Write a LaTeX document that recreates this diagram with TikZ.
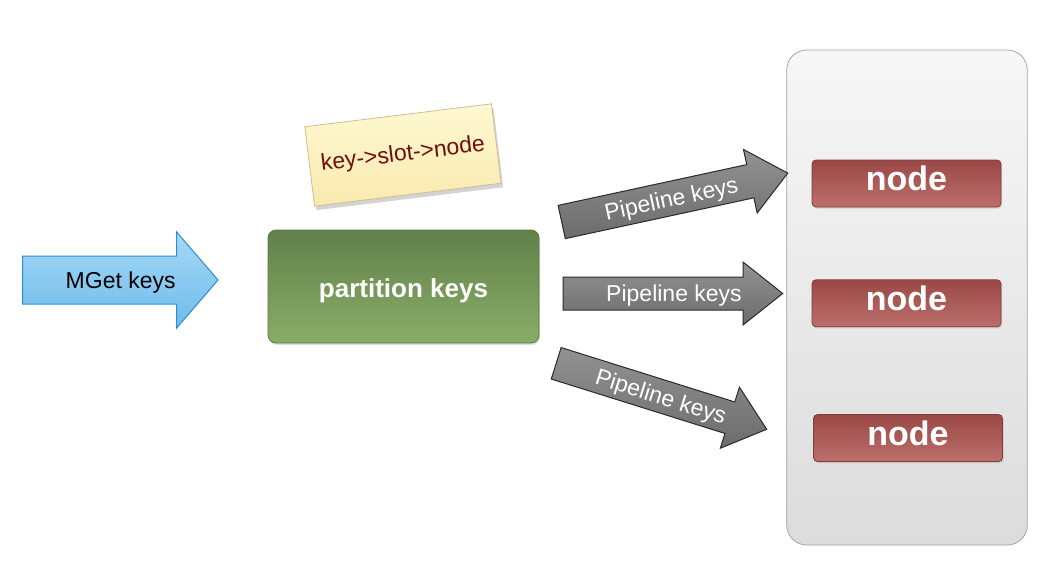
\documentclass[tikz,border=0pt]{standalone}
\usepackage{fontspec}
\setmainfont{Liberation Sans}
\usetikzlibrary{shadows}
\definecolor{bluetop}{HTML}{A6D8F7}
\definecolor{bluebot}{HTML}{6EBCEA}
\definecolor{blueline}{HTML}{2A8FD2}
\definecolor{graytop}{HTML}{929292}
\definecolor{graybot}{HTML}{6C6C6C}
\definecolor{grayline}{HTML}{2A2A2A}
\definecolor{greentop}{HTML}{62804A}
\definecolor{greenbot}{HTML}{89AD68}
\definecolor{greenline}{HTML}{587840}
\definecolor{redtop}{HTML}{9A4845}
\definecolor{redbot}{HTML}{BC6F6B}
\definecolor{redline}{HTML}{7E3C3A}
\definecolor{notetop}{HTML}{FFF9D2}
\definecolor{notebot}{HTML}{F8E9AE}
\definecolor{noteline}{HTML}{CDBE8E}
\definecolor{notetext}{HTML}{700D0D}
\definecolor{boxtop}{HTML}{F7F7F7}
\definecolor{boxbot}{HTML}{DCDCDC}
\definecolor{boxline}{HTML}{A5A5A5}
\begin{document}
\begin{tikzpicture}[x=1pt,y=-1pt,
  cluster/.style={draw=boxline, line width=0.8pt, rounded corners=20pt, top color=boxtop, bottom color=boxbot, inner sep=0, outer sep=0},
  rednode/.style={draw=redline, line width=0.8pt, rounded corners=4pt, top color=redtop, bottom color=redbot, text=white, font=\bfseries\fontsize{34}{40}\selectfont, minimum width=189pt, minimum height=47pt, inner sep=0, text depth=10pt, drop shadow={opacity=0.25, shadow xshift=1pt, shadow yshift=-1.5pt}},
  greenbox/.style={draw=greenline, line width=0.8pt, rounded corners=8pt, top color=greentop, bottom color=greenbot, text=white, font=\bfseries\fontsize{26}{30}\selectfont, minimum width=271pt, minimum height=113pt, inner sep=0, text height=27pt, text depth=6pt, drop shadow={opacity=0.25, shadow xshift=1pt, shadow yshift=-2pt}},
  notebox/.style={draw=noteline, line width=0.8pt, top color=notetop, bottom color=notebot, text=notetext, font=\fontsize{23}{27}\selectfont, minimum width=188pt, minimum height=80pt, inner sep=0, drop shadow={opacity=0.35, shadow xshift=2pt, shadow yshift=-4pt}},
  bluearrow/.style={draw=blueline, line width=1pt, line join=miter, top color=bluetop, bottom color=bluebot},
  pipearrow/.style={draw=grayline, line width=1pt, line join=miter, top color=graytop, bottom color=graybot},
  arrowtext/.style={font=\fontsize{23}{27}\selectfont, inner sep=0, text depth=0pt, transform shape},
]
\useasboundingbox (0,0) rectangle (1058,570);

% cluster of nodes
\node[cluster, minimum width=240.6pt, minimum height=495pt] (cluster) at (907,297.5) {};
\node[rednode] (n1) at (906.5,183.5) {node};
\node[rednode] (n2) at (906.5,303.3) {node};
\node[rednode] (n3) at (908,438) {node};

% MGet keys arrow
\begin{scope}[shift={(22.7,280)}]
  \path[bluearrow] (0,-24) -- (154,-24) -- (154,-48) -- (195.3,0) -- (154,48) -- (154,24) -- (0,24) -- cycle;
  \node[arrowtext, text=black] (mget) at (98,0) {MGet keys};
\end{scope}

% partition box and note
\node[greenbox] (part) at (403.5,286.5) {partition keys};
\node[notebox, rotate=7] (note) at (403,155) {key->slot->node};

% pipeline arrows
\begin{scope}[shift={(561.7,222)}, rotate=12.2]
  \path[pipearrow] (0,-17) -- (193,-17) -- (193,-32.5) -- (231.3,0) -- (193,32.5) -- (193,17) -- (0,17) -- cycle;
  \node[arrowtext, text=white] (p1) at (112,0) {Pipeline keys};
\end{scope}
\begin{scope}[shift={(563,293.5)}]
  \path[pipearrow] (0,-16.5) -- (180,-16.5) -- (180,-31.5) -- (219.7,0) -- (180,31.5) -- (180,16.5) -- (0,16.5) -- cycle;
  \node[arrowtext, text=white] (p2) at (111,0) {Pipeline keys};
\end{scope}
\begin{scope}[shift={(556.2,363.3)}, rotate=-17.4]
  \path[pipearrow] (0,-16.5) -- (182,-16.5) -- (182,-32) -- (220.6,0) -- (182,32) -- (182,16.5) -- (0,16.5) -- cycle;
  \node[arrowtext, text=white] (p3) at (110,0) {Pipeline keys};
\end{scope}
\end{tikzpicture}
\end{document}
